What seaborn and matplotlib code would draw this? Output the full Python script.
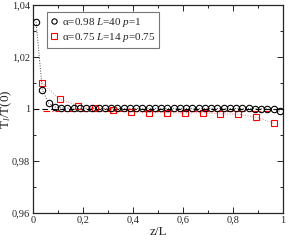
import numpy as np
import pandas as pd
import matplotlib
matplotlib.use("Agg")
import matplotlib.pyplot as plt
import seaborn as sns

sns.set_theme(style="ticks")
plt.rcParams['font.family'] = ['Liberation Serif', 'DejaVu Serif']
plt.rcParams['mathtext.fontset'] = 'custom'
plt.rcParams['mathtext.rm'] = 'Liberation Serif'
plt.rcParams['mathtext.it'] = 'Liberation Serif:italic'

# Series 1: alpha=0.98, L=40, p=1  (z = (i+0.5)/40)
z_a = [(i + 0.5) / 40 for i in range(40)]
t_a = [1.0335, 1.0073, 1.0023, 1.0008, 1.0004, 1.0003, 1.0003, 1.0002, 1.0002, 1.0002,
       1.0002, 1.0002, 1.0002, 1.0002, 1.0002, 1.0002, 1.0002, 1.0002, 1.0002, 1.0002,
       1.0002, 1.0002, 1.0002, 1.0002, 1.0002, 1.0002, 1.0002, 1.0002, 1.0002, 1.0002,
       1.0002, 1.0002, 1.0002, 1.0002, 1.0002, 1.0001, 1.0001, 1.0000, 0.9998, 0.9991]

# Series 2: alpha=0.75, L=14, p=0.75  (z = (i+0.5)/14)
z_b = [(i + 0.5) / 14 for i in range(14)]
t_b = [1.0101, 1.0037, 1.0013, 1.0003, 0.9996, 0.9990, 0.9986, 0.9986, 0.9984, 0.9986,
       0.9981, 0.9980, 0.9968, 0.9945]

ref_black = 1.0
ref_red = 0.9994
ref_red_span = (0.04, 0.95)

label_a = r"$\mathrm{\alpha}$=0.98 $L$=40 $p$=1"
label_b = r"$\mathrm{\alpha}$=0.75 $L$=14 $p$=0.75"

xticks = [0, 0.2, 0.4, 0.6, 0.8, 1.0]
xtick_labels = ["0", "0,2", "0,4", "0,6", "0,8", "1"]
yticks = [0.96, 0.98, 1.00, 1.02, 1.04]
ytick_labels = ["0,96", "0,98", "1", "1,02", "1,04"]

df_a = pd.DataFrame({"z": z_a, "t": t_a})
df_b = pd.DataFrame({"z": z_b, "t": t_b})

fig = plt.figure(figsize=(2.89, 2.40), dpi=100)
ax = fig.add_axes([0.114, 0.1125, 0.865, 0.867])

ax.axhline(ref_black, color="black", lw=0.8, ls=(0, (5, 3)), zorder=1)
ax.plot([ref_red_span[0], ref_red_span[1]], [ref_red, ref_red], color="red", lw=0.8,
        ls=(0, (6, 2, 1, 2)), zorder=1)

sns.lineplot(data=df_a, x="z", y="t", ax=ax, color="#444444", lw=0.7, ls=":",
             marker="o", markersize=4.6, markerfacecolor="none",
             markeredgecolor="black", markeredgewidth=0.8, label=label_a, zorder=3)
sns.lineplot(data=df_b, x="z", y="t", ax=ax, color="#ff8080", lw=0.7, ls=":",
             marker="s", markersize=4.8, markerfacecolor="none",
             markeredgecolor="red", markeredgewidth=0.8, label=label_b, zorder=2)

ax.set_xlim(0, 1)
ax.set_ylim(0.96, 1.04)
ax.set_xticks(xticks)
ax.set_xticklabels(xtick_labels)
ax.set_yticks(yticks)
ax.set_yticklabels(ytick_labels)
ax.set_xticks(np.arange(0.1, 1.0, 0.2), minor=True)
ax.set_yticks([0.97, 0.99, 1.01, 1.03], minor=True)
ax.tick_params(which="both", direction="in", top=True, right=True, labelsize=7.5,
               width=0.7, pad=2)
ax.tick_params(which="major", length=4)
ax.tick_params(which="minor", length=2)
for s in ax.spines.values():
    s.set_linewidth(0.9)

ax.set_xlabel("z/L", fontsize=9.5, labelpad=1)
ax.set_ylabel(r"T$_l$/T(0)", fontsize=9.5)
ax.yaxis.set_label_coords(-0.075, 0.5)

leg = ax.legend(loc="upper left", bbox_to_anchor=(0.055, 0.965), fontsize=8,
                frameon=True, fancybox=False, edgecolor="#555555", handlelength=0.6,
                handletextpad=0.4, borderpad=0.35, labelspacing=0.15, borderaxespad=0)
leg.get_frame().set_linewidth(0.8)
for line in leg.get_lines():
    line.set_linestyle("none")
    line.set_markersize(3.8)

fig.savefig("out.png", dpi=100)
